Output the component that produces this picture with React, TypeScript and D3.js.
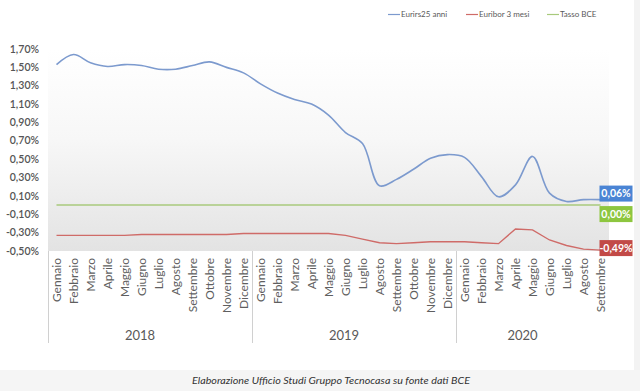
import * as d3 from "d3";
import React from "react";

// categories
const years = ["2018", "2019", "2020"];
const monthsPerYear = [12, 12, 9];
const monthNames = [
  "Gennaio", "Febbraio", "Marzo", "Aprile", "Maggio", "Giugno",
  "Luglio", "Agosto", "Settembre", "Ottobre", "Novembre", "Dicembre",
];

// series (%)
const eurirs25 = [
  1.53, 1.64, 1.55, 1.51, 1.53, 1.52, 1.48, 1.48, 1.52, 1.56, 1.5, 1.44,
  1.32, 1.22, 1.15, 1.1, 0.98, 0.79, 0.67, 0.21, 0.28, 0.39, 0.51, 0.55,
  0.52, 0.31, 0.09, 0.22, 0.53, 0.13, 0.04, 0.06, 0.06,
];
const euribor3m = [
  -0.33, -0.33, -0.33, -0.33, -0.33, -0.32, -0.32, -0.32, -0.32, -0.32, -0.32, -0.31,
  -0.31, -0.31, -0.31, -0.31, -0.31, -0.33, -0.37, -0.41, -0.42, -0.41, -0.4, -0.4,
  -0.4, -0.41, -0.42, -0.26, -0.27, -0.38, -0.44, -0.48, -0.49,
];
const tassoBce = [
  0, 0, 0, 0, 0, 0, 0, 0, 0, 0, 0, 0,
  0, 0, 0, 0, 0, 0, 0, 0, 0, 0, 0, 0,
  0, 0, 0, 0, 0, 0, 0, 0, 0,
];
const yTicks = [-0.5, -0.3, -0.1, 0.1, 0.3, 0.5, 0.7, 0.9, 1.1, 1.3, 1.5, 1.7];

const seriesNames = ["Eurirs25 anni", "Euribor 3 mesi", "Tasso BCE"];

const W = 640;
const H = 391;
const font = "Lato, 'Open Sans', sans-serif";

const fmt = (v: number) => v.toFixed(2).replace(".", ",") + "%";

export default function App() {
  const categories: { month: string; year: string }[] = [];
  years.forEach((y, yi) => {
    for (let m = 0; m < monthsPerYear[yi]; m++) categories.push({ month: monthNames[m], year: y });
  });
  const idx = categories.map((_, i) => i);

  const x = d3.scaleBand<number>().domain(idx).range([48, 609]).padding(0);
  const cx = (i: number) => x(i)! + x.bandwidth() / 2;
  const y = d3.scaleLinear().domain([-0.5, 1.7]).range([251, 49]);

  const plotTop = y(1.7);
  const plotBottom = y(-0.5);

  const smooth = d3.line<number>().x((_, i) => cx(i)).y((d) => y(d)).curve(d3.curveCatmullRom.alpha(0.5));
  const straight = d3.line<number>().x((_, i) => cx(i)).y((d) => y(d));

  // group boundaries on the category axis
  const bounds: number[] = [0];
  monthsPerYear.forEach((n, i) => bounds.push(bounds[i] + n));

  const colors = { blue: "#7c9ace", red: "#cf6b68", green: "#a8ca7c" };
  const last = categories.length - 1;

  const endLabels = [
    { v: eurirs25[last], fill: "#4a84d4", dy: -6 },
    { v: tassoBce[last], fill: "#8dc63f", dy: 9 },
    { v: euribor3m[last], fill: "#c24a47", dy: -2 },
  ];

  return (
    <svg
      width={W}
      height={H}
      style={{ position: "absolute", left: 0, top: 0, display: "block", background: "#fff" }}
      fontFamily={font}
    >
      <defs>
        <linearGradient id="plotBg" x1="0" y1="0" x2="0" y2="1">
          <stop offset="0" stopColor="#ffffff" />
          <stop offset="0.45" stopColor="#f7f7f7" />
          <stop offset="1" stopColor="#e3e3e3" />
        </linearGradient>
      </defs>

      {/* frame bits */}
      <rect x={634} y={0} width={6} height={370} fill="#f3f3f3" />
      <rect x={0} y={370} width={W} height={21} fill="#f5f5f5" />

      {/* plot area */}
      <rect x={48} y={plotTop} width={609 - 48} height={plotBottom - plotTop} fill="url(#plotBg)" />

      {/* y axis labels */}
      {yTicks.map((t) => (
        <text key={t} x={39} y={y(t)} dy="0.35em" textAnchor="end" fontSize={10.5} fill="#555" fontWeight={600}>
          {fmt(t)}
        </text>
      ))}

      {/* lines */}
      <path d={straight(tassoBce)!} fill="none" stroke={colors.green} strokeWidth={1.5} />
      <path d={straight(euribor3m)!} fill="none" stroke={colors.red} strokeWidth={1.4} />
      <path d={smooth(eurirs25)!} fill="none" stroke={colors.blue} strokeWidth={1.6} />

      {/* end labels */}
      {endLabels.map((l, i) => (
        <g key={i} transform={`translate(${cx(last) - 1},${y(l.v) + l.dy})`}>
          <rect x={0} y={-8} width={33} height={16} fill={l.fill} />
          <text x={16.5} y={0} dy="0.36em" textAnchor="middle" fontSize={10.5} fontWeight={700} fill="#fff">
            {fmt(l.v)}
          </text>
        </g>
      ))}

      {/* category axis: months */}
      {categories.map((c, i) => (
        <text
          key={i}
          transform={`translate(${cx(i)},258) rotate(-90)`}
          dy="0.35em"
          textAnchor="end"
          fontSize={12}
          fill="#5f5f5f"
        >
          {c.month}
        </text>
      ))}

      {/* category axis: group separators and years */}
      {bounds.slice(0, years.length).map((b) => (
        <line key={b} x1={x(b)! + 0.5} x2={x(b)! + 0.5} y1={plotBottom} y2={343} stroke="#d0d0d0" strokeWidth={1} />
      ))}
      {years.map((yr, i) => {
        const a = x(bounds[i])!;
        const b = i + 1 < bounds.length - 1 ? x(bounds[i + 1])! : x(last)! + x.bandwidth();
        return (
          <text key={yr} x={(a + b) / 2 - 10} y={340} textAnchor="middle" fontSize={13} fill="#595959">
            {yr}
          </text>
        );
      })}

      {/* legend */}
      {seriesNames.map((n, i) => {
        const lx = [388, 466, 547][i];
        const c = [colors.blue, colors.red, colors.green][i];
        return (
          <g key={n}>
            <line x1={lx} x2={lx + 12} y1={14.5} y2={14.5} stroke={c} strokeWidth={1.2} />
            <text x={lx + 13} y={14.5} dy="0.35em" fontSize={8} fill="#595959">
              {n}
            </text>
          </g>
        );
      })}

      {/* footer */}
      <text
        x={331}
        y={384}
        textAnchor="middle"
        fontSize={10}
        fontStyle="italic"
        fill="#333"
        textLength={278}
        lengthAdjust="spacingAndGlyphs"
      >
        Elaborazione Ufficio Studi Gruppo Tecnocasa su fonte dati BCE
      </text>
    </svg>
  );
}
